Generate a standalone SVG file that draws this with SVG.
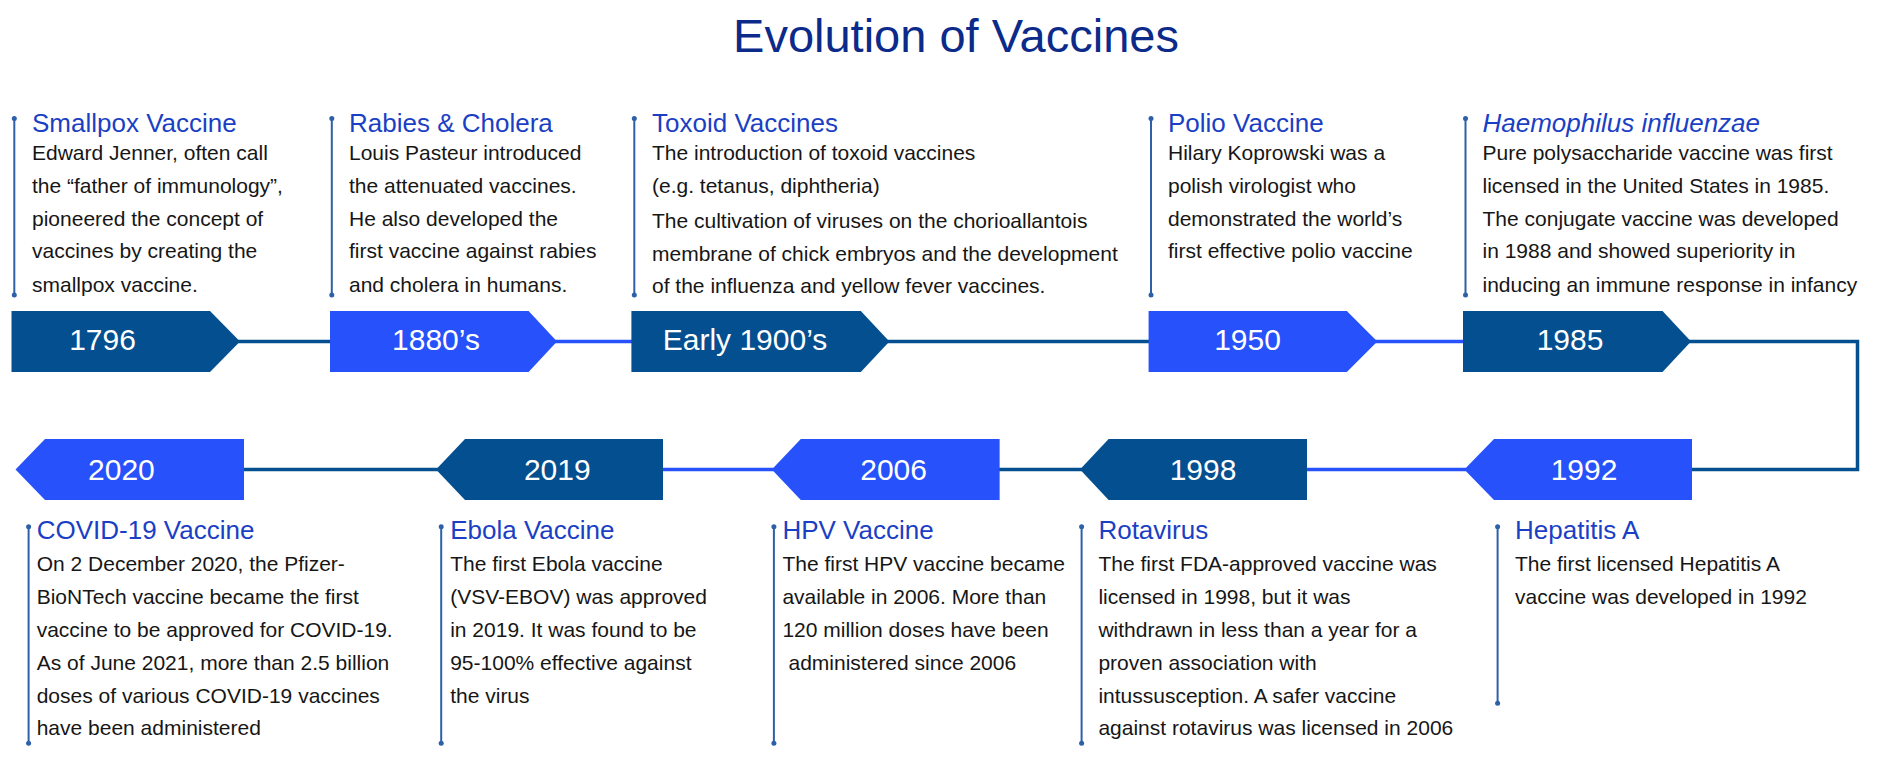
<svg xmlns="http://www.w3.org/2000/svg" width="1877" height="784" viewBox="0 0 1877 784">
<style>
.bg{fill:#ffffff}
.title{font-family:"Liberation Sans",Arial,sans-serif;font-size:47px;fill:#0b2a8a;text-anchor:middle}
.head{font-family:"Liberation Sans",Arial,sans-serif;font-size:26px;fill:#1b3fc4}
.body{font-family:"Liberation Sans",Arial,sans-serif;font-size:21px;fill:#161616}
.year{font-family:"Liberation Sans",Arial,sans-serif;font-size:30px;fill:#ffffff;text-anchor:middle}
.dark{fill:#044f8f}
.bright{fill:#2651fb}
.cd{stroke:#044f8f;stroke-width:3.5;fill:none}
.cb{stroke:#2651fb;stroke-width:3.5;fill:none}
.vl{stroke:#2d60a8;stroke-width:2}
.dot{fill:#2d60a8}
</style>
<rect class="bg" x="0" y="0" width="1877" height="784"/>
<text id="title" class="title" x="956" y="52">Evolution of Vaccines</text>

<g id="connectors">
<line class="cd" x1="238" y1="341.5" x2="332" y2="341.5"/>
<line class="cb" x1="555" y1="341.5" x2="633" y2="341.5"/>
<line class="cd" x1="887" y1="341.5" x2="1150" y2="341.5"/>
<line class="cb" x1="1375" y1="341.5" x2="1465" y2="341.5"/>
<polyline class="cd" points="1689,341.5 1857.5,341.5 1857.5,469.5 1690,469.5"/>
<line class="cb" x1="1307" y1="469.5" x2="1466" y2="469.5"/>
<line class="cd" x1="999" y1="469.5" x2="1082" y2="469.5"/>
<line class="cb" x1="662" y1="469.5" x2="774" y2="469.5"/>
<line class="cd" x1="243" y1="469.5" x2="438" y2="469.5"/>
</g>

<g id="n1796">
<polygon class="dark" points="11.5,311 210,311 240,341.5 210,372 11.5,372"/>
<text class="year" x="102.5" y="349.5">1796</text>
<line class="vl" x1="14.3" y1="118.5" x2="14.3" y2="295"/>
<circle class="dot" cx="14.3" cy="118.5" r="2.5"/><circle class="dot" cx="14.3" cy="295" r="2.5"/>
<text class="head" x="32" y="131.7">Smallpox Vaccine</text>
<text class="body"><tspan x="32" y="160">Edward Jenner, often call</tspan><tspan x="32" y="192.8">the “father of immunology”,</tspan><tspan x="32" y="225.7">pioneered the concept of</tspan><tspan x="32" y="258.4">vaccines by creating the</tspan><tspan x="32" y="291.7">smallpox vaccine.</tspan></text>
</g>

<g id="n1880">
<polygon class="bright" points="330,311 528.6,311 557,341.5 528.6,372 330,372"/>
<text class="year" x="436" y="349.5">1880’s</text>
<line class="vl" x1="331.8" y1="118.5" x2="331.8" y2="295"/>
<circle class="dot" cx="331.8" cy="118.5" r="2.5"/><circle class="dot" cx="331.8" cy="295" r="2.5"/>
<text class="head" x="349" y="131.7">Rabies &amp; Cholera</text>
<text class="body"><tspan x="349" y="160">Louis Pasteur introduced</tspan><tspan x="349" y="192.8">the attenuated vaccines.</tspan><tspan x="349" y="225.7">He also developed the</tspan><tspan x="349" y="258.4">first vaccine against rabies</tspan><tspan x="349" y="291.7">and cholera in humans.</tspan></text>
</g>

<g id="n1900">
<polygon class="dark" points="631.4,311 860.8,311 889.4,341.5 860.8,372 631.4,372"/>
<text class="year" x="745" y="349.5">Early 1900’s</text>
<line class="vl" x1="634.3" y1="118.5" x2="634.3" y2="295"/>
<circle class="dot" cx="634.3" cy="118.5" r="2.5"/><circle class="dot" cx="634.3" cy="295" r="2.5"/>
<text class="head" x="652" y="131.7">Toxoid Vaccines</text>
<text class="body"><tspan x="652" y="160">The introduction of toxoid vaccines</tspan><tspan x="652" y="193.2">(e.g. tetanus, diphtheria)</tspan><tspan x="652" y="227.6">The cultivation of viruses on the chorioallantois</tspan><tspan x="652" y="260.6">membrane of chick embryos and the development</tspan><tspan x="652" y="293.4">of the influenza and yellow fever vaccines.</tspan></text>
</g>

<g id="n1950">
<polygon class="bright" points="1148.6,311 1346.8,311 1377.3,341.5 1346.8,372 1148.6,372"/>
<text class="year" x="1247.5" y="349.5">1950</text>
<line class="vl" x1="1151" y1="118.5" x2="1151" y2="295"/>
<circle class="dot" cx="1151" cy="118.5" r="2.5"/><circle class="dot" cx="1151" cy="295" r="2.5"/>
<text class="head" x="1168" y="131.7">Polio Vaccine</text>
<text class="body"><tspan x="1168" y="160">Hilary Koprowski was a</tspan><tspan x="1168" y="192.8">polish virologist who</tspan><tspan x="1168" y="225.7">demonstrated the world’s</tspan><tspan x="1168" y="258.4">first effective polio vaccine</tspan></text>
</g>

<g id="n1985">
<polygon class="dark" points="1463,311 1662.5,311 1691,341.5 1662.5,372 1463,372"/>
<text class="year" x="1570" y="349.5">1985</text>
<line class="vl" x1="1465.5" y1="118.5" x2="1465.5" y2="295"/>
<circle class="dot" cx="1465.5" cy="118.5" r="2.5"/><circle class="dot" cx="1465.5" cy="295" r="2.5"/>
<text class="head" x="1482.5" y="131.7" font-style="italic">Haemophilus influenzae</text>
<text class="body"><tspan x="1482.5" y="160">Pure polysaccharide vaccine was first</tspan><tspan x="1482.5" y="192.8">licensed in the United States in 1985.</tspan><tspan x="1482.5" y="225.7">The conjugate vaccine was developed</tspan><tspan x="1482.5" y="258.4">in 1988 and showed superiority in</tspan><tspan x="1482.5" y="291.7">inducing an immune response in infancy</tspan></text>
</g>

<g id="n1992">
<polygon class="bright" points="1464.3,469.5 1494,439 1692,439 1692,500 1494,500"/>
<text class="year" x="1584" y="479.5">1992</text>
<line class="vl" x1="1497.6" y1="526.7" x2="1497.6" y2="703.3"/>
<circle class="dot" cx="1497.6" cy="526.7" r="2.5"/><circle class="dot" cx="1497.6" cy="703.3" r="2.5"/>
<text class="head" x="1515" y="539">Hepatitis A</text>
<text class="body"><tspan x="1515" y="571">The first licensed Hepatitis A</tspan><tspan x="1515" y="603.5">vaccine was developed in 1992</tspan></text>
</g>

<g id="n1998">
<polygon class="dark" points="1080,469.5 1108.6,439 1307,439 1307,500 1108.6,500"/>
<text class="year" x="1203" y="479.5">1998</text>
<line class="vl" x1="1081.6" y1="526.7" x2="1081.6" y2="743.3"/>
<circle class="dot" cx="1081.6" cy="526.7" r="2.5"/><circle class="dot" cx="1081.6" cy="743.3" r="2.5"/>
<text class="head" x="1098.4" y="539">Rotavirus</text>
<text class="body"><tspan x="1098.4" y="571">The first FDA-approved vaccine was</tspan><tspan x="1098.4" y="603.5">licensed in 1998, but it was</tspan><tspan x="1098.4" y="636.5">withdrawn in less than a year for a</tspan><tspan x="1098.4" y="669.5">proven association with</tspan><tspan x="1098.4" y="702.5">intussusception. A safer vaccine</tspan><tspan x="1098.4" y="735">against rotavirus was licensed in 2006</tspan></text>
</g>

<g id="n2006">
<polygon class="bright" points="771.8,469.5 800.8,439 999.6,439 999.6,500 800.8,500"/>
<text class="year" x="893.6" y="479.5">2006</text>
<line class="vl" x1="773.9" y1="526.7" x2="773.9" y2="743.3"/>
<circle class="dot" cx="773.9" cy="526.7" r="2.5"/><circle class="dot" cx="773.9" cy="743.3" r="2.5"/>
<text class="head" x="782.4" y="539">HPV Vaccine</text>
<text class="body"><tspan x="782.4" y="571">The first HPV vaccine became</tspan><tspan x="782.4" y="603.5">available in 2006. More than</tspan><tspan x="782.4" y="636.5">120 million doses have been</tspan><tspan x="788.5" y="669.5">administered since 2006</tspan></text>
</g>

<g id="n2019">
<polygon class="dark" points="436,469.5 465,439 663,439 663,500 465,500"/>
<text class="year" x="557.3" y="479.5">2019</text>
<line class="vl" x1="441.2" y1="526.7" x2="441.2" y2="743.3"/>
<circle class="dot" cx="441.2" cy="526.7" r="2.5"/><circle class="dot" cx="441.2" cy="743.3" r="2.5"/>
<text class="head" x="450.2" y="539">Ebola Vaccine</text>
<text class="body"><tspan x="450.2" y="571">The first Ebola vaccine</tspan><tspan x="450.2" y="603.5">(VSV-EBOV) was approved</tspan><tspan x="450.2" y="636.5">in 2019. It was found to be</tspan><tspan x="450.2" y="669.5">95-100% effective against</tspan><tspan x="450.2" y="702.5">the virus</tspan></text>
</g>

<g id="n2020">
<polygon class="bright" points="15.5,469.5 45,439 244,439 244,500 45,500"/>
<text class="year" x="121.4" y="479.5">2020</text>
<line class="vl" x1="28.6" y1="526.7" x2="28.6" y2="743.3"/>
<circle class="dot" cx="28.6" cy="526.7" r="2.5"/><circle class="dot" cx="28.6" cy="743.3" r="2.5"/>
<text class="head" x="36.7" y="539">COVID-19 Vaccine</text>
<text class="body"><tspan x="36.7" y="571">On 2 December 2020, the Pfizer-</tspan><tspan x="36.7" y="603.5">BioNTech vaccine became the first</tspan><tspan x="36.7" y="636.5">vaccine to be approved for COVID-19.</tspan><tspan x="36.7" y="669.5">As of June 2021, more than 2.5 billion</tspan><tspan x="36.7" y="702.5">doses of various COVID-19 vaccines</tspan><tspan x="36.7" y="735">have been administered</tspan></text>
</g>
</svg>
